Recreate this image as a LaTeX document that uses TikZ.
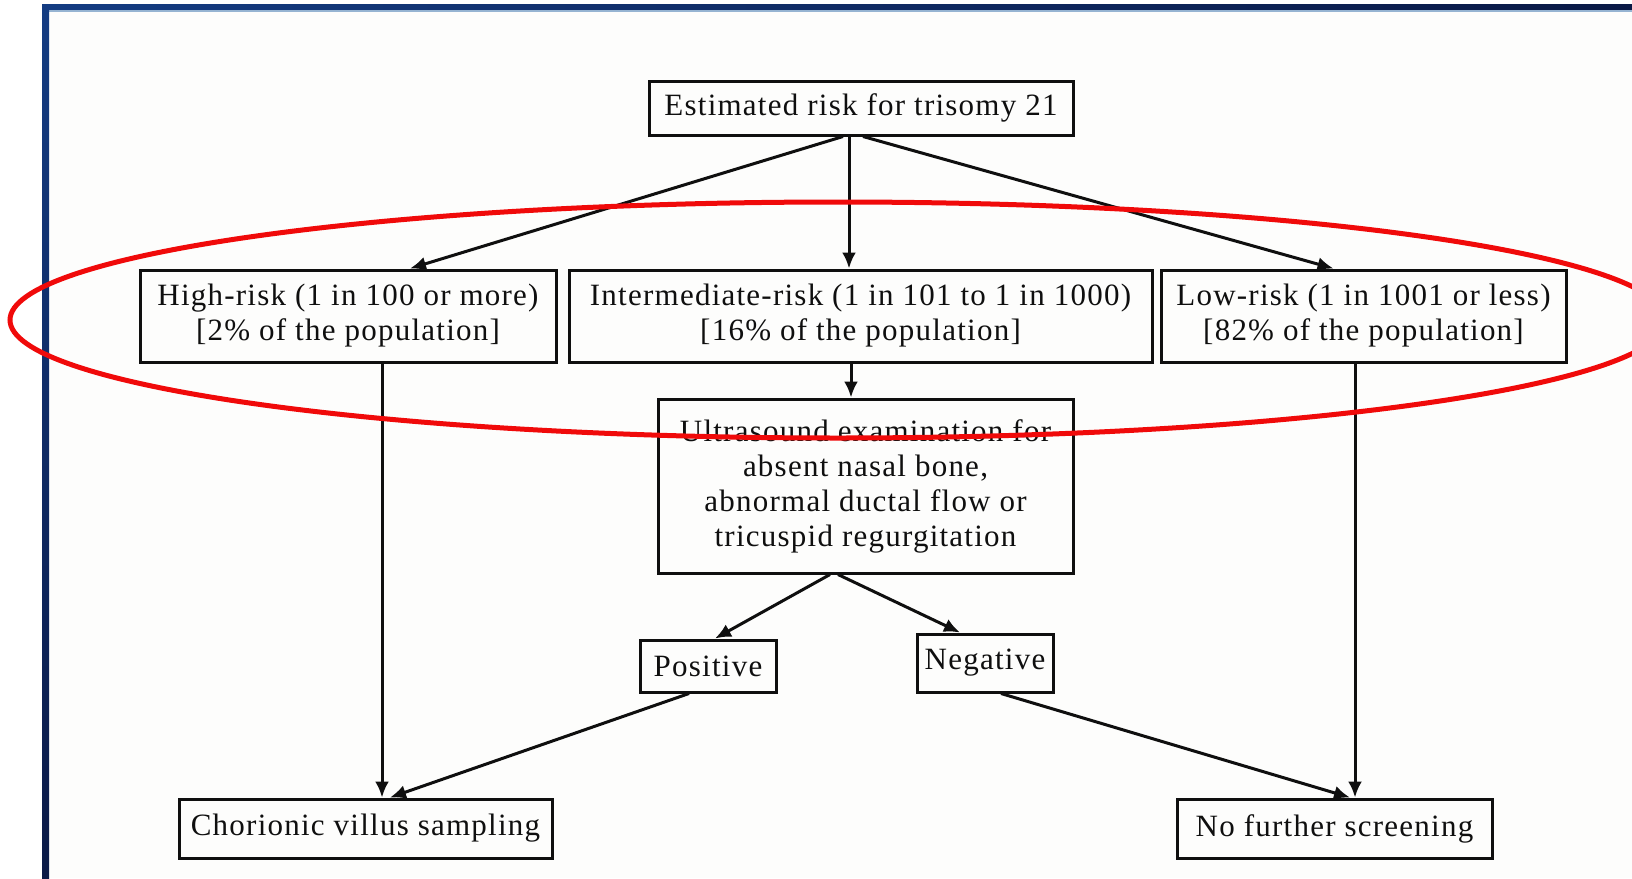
\documentclass[tikz,border=0pt]{standalone}
\usepackage{fontspec}
\setmainfont{Liberation Serif}[LetterSpace=4]
\usetikzlibrary{arrows.meta,calc}
\definecolor{inkc}{RGB}{15,15,15}
\definecolor{frameA}{RGB}{20,60,130}
\definecolor{frameB}{RGB}{10,25,70}
\definecolor{ringred}{RGB}{240,10,10}
\tikzset{
  box/.style={draw=inkc, line width=3pt, inner sep=0pt, align=center, text=inkc,
    font=\fontsize{31}{35}\selectfont},
  conn/.style={draw=inkc, line width=3pt, -{Latex[length=16pt,width=14pt]}},
}
\begin{document}
\begin{tikzpicture}[x=1pt,y=-1pt]
\useasboundingbox (0,0) rectangle (1632,878);
\clip (0,0) rectangle (1632,878);
\fill[white] (0,0) rectangle (1632,878);
\fill[color={rgb,255:red,253;green,253;blue,252}] (49,10) rectangle (1632,878);
% frame
\shade[left color=frameA, right color=frameB] (42,4) rectangle (1632,10);
\fill[color={rgb,255:red,150;green,180;blue,210}] (49,10) rectangle (1632,11.5);
\shade[top color=frameA, bottom color=frameB] (42,4) rectangle (49,878);

% nodes
\node[box, minimum width=424pt, minimum height=54pt] (top) at (861,108) {Estimated risk for trisomy 21};
\node[box, minimum width=416pt, minimum height=92pt] (high) at (348,316) {High-risk (1 in 100 or more)\\{}[2\% of the population]};
\node[box, minimum width=583pt, minimum height=92pt] (inter) at (860.5,316) {Intermediate-risk (1 in 101 to 1 in 1000)\\{}[16\% of the population]};
\node[box, minimum width=405pt, minimum height=92pt] (low) at (1363.5,316) {Low-risk (1 in 1001 or less)\\{}[82\% of the population]};
\node[box, minimum width=415pt, minimum height=174pt] (us) at (865.5,486) {Ultrasound examination for\\absent nasal bone,\\abnormal ductal flow or\\tricuspid regurgitation};
\node[box, minimum width=136pt, minimum height=52pt] (pos) at (708,666) {Positive};
\node[box, minimum width=136pt, minimum height=58pt] (neg) at (985,663) {Negative};
\node[box, minimum width=373pt, minimum height=59pt] (cvs) at (365.5,828.5) {Chorionic villus sampling};
\node[box, minimum width=315pt, minimum height=59pt] (nfs) at (1334.5,828.5) {No further screening};

% connector end points
\coordinate (tA) at ($(top.south)+(-18,0)$);
\coordinate (tB) at ($(top.south)+(-12,0)$);
\coordinate (tC) at ($(top.south)+(2,0)$);
\coordinate (iS) at ($(inter.south)+(-9.5,0)$);
\coordinate (hS) at ($(high.south)+(34,0)$);
\coordinate (lS) at ($(low.south)+(-8.5,0)$);

% connectors
\draw[conn] (tA) -- ($(high.north)+(62,0)$);
\draw[conn] (tB) -- (tB |- inter.north);
\draw[conn] (tC) -- ($(low.north)+(-30,0)$);
\draw[conn] (iS) -- (iS |- us.north);
\draw[conn] ($(us.south)+(-35.5,0)$) -- ($(pos.north)+(7,0)$);
\draw[conn] ($(us.south)+(-27.5,0)$) -- ($(neg.north)+(-25,0)$);
\draw[conn] (hS) -- (hS |- cvs.north);
\draw[conn] ($(pos.south)+(-19,0)$) -- ($(cvs.north)+(24.5,0)$);
\draw[conn] (lS) -- (lS |- nfs.north);
\draw[conn] ($(neg.south)+(16,0)$) -- ($(nfs.north)+(15.5,0)$);

% highlight ellipse
\draw[ringred, line width=5pt] (838,320) ellipse [x radius=828, y radius=118];
\end{tikzpicture}
\end{document}
